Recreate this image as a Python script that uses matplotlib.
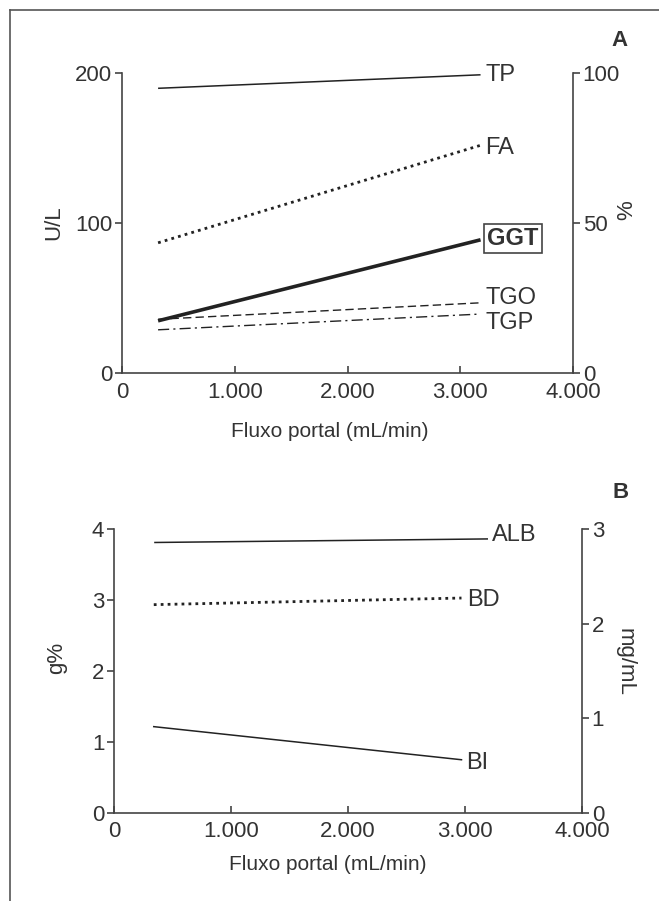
import matplotlib
matplotlib.use("Agg")
import matplotlib.pyplot as plt
from matplotlib.lines import Line2D

plt.rcParams['font.family'] = ['Liberation Sans', 'DejaVu Sans']

W, H = 659, 901
C = '#333333'

# Panel A data
flow_a = [320, 3180]
TP = [95.0, 99.5]      # % (right axis)
FA = [87, 152]         # U/L
GGT = [35, 89]
TGO = [36, 47]
TGP = [29, 39.5]
xticks = [0, 1000, 2000, 3000, 4000]
xticklabels = ['0', '1.000', '2.000', '3.000', '4.000']

# Panel B data
flow_b = [340, 2970]
ALB_x = [350, 3190]
ALB = [3.81, 3.86]     # g% (left axis)
BD = [2.20, 2.27]      # mg/mL (right axis)
BI = [0.91, 0.56]      # mg/mL (right axis)

fig = plt.figure(figsize=(W / 100, H / 100), dpi=100)

def px(x0, y0, x1, y1):
    return [x0 / W, 1 - y1 / H, (x1 - x0) / W, (y1 - y0) / H]

FS = 16
LFS = 17

def style(ax, ax2, lp, xl_center_px, x0, x1):
    for a in (ax, ax2):
        for s in a.spines.values():
            s.set_color('#444444')
            s.set_linewidth(1.2)
        a.spines['top'].set_visible(False)
    ax.spines['right'].set_visible(False)
    ax2.spines['left'].set_visible(False)
    ax2.spines['bottom'].set_visible(False)
    ax.tick_params(axis='y', direction='out', length=5, width=1.2, color='#444444',
                   labelsize=FS, labelcolor=C, pad=2)
    ax.tick_params(axis='x', direction='in', length=5, width=1.2, color='#444444',
                   labelsize=FS, labelcolor=C, pad=6)
    ax2.tick_params(axis='y', direction='out', length=5, width=1.2, color='#444444',
                    labelsize=FS, labelcolor=C, pad=2)
    ax.set_xlim(0, 4000)
    ax.set_xticks(xticks)
    ax.set_xticklabels(xticklabels)
    ax.set_xlabel('Fluxo portal (mL/min)', fontsize=15, color=C, labelpad=lp)
    ax.xaxis.label.set_x((xl_center_px - x0) / (x1 - x0))

# ---- Panel A ----
axA = fig.add_axes(px(122, 73.3, 573, 373.3))
axA2 = axA.twinx()
axA.set_ylim(0, 200)
axA.set_yticks([0, 100, 200])
axA2.set_ylim(0, 100)
axA2.set_yticks([0, 50, 100])
style(axA, axA2, 14, 330, 122, 573)

lc = '#222222'
axA2.plot(flow_a, TP, color=lc, lw=1.1, solid_capstyle='butt')
axA.plot(flow_a, FA, color=lc, lw=2.0, linestyle=(0, (1, 1.5)))
axA.plot(flow_a, GGT, color=lc, lw=2.6, solid_capstyle='butt')
axA.plot(flow_a, TGO, color=lc, lw=1.0, linestyle=(0, (6, 3)))
axA.plot(flow_a, TGP, color=lc, lw=1.0, linestyle=(0, (8, 3, 1.5, 3)))

tx = flow_a[1] + 40
axA2.text(tx, TP[1], 'TP', fontsize=LFS, color=C, va='center', ha='left')
axA.text(tx, FA[1] - 2, 'FA', fontsize=LFS, color=C, va='center', ha='left')
axA.text(tx + 20, GGT[1] + 1, 'GGT', fontsize=LFS, color=C, va='center', ha='left',
         fontweight='bold',
         bbox=dict(boxstyle='square,pad=0.12', fc='white', ec='#444444', lw=1.2))
axA.text(tx, TGO[1] + 3, 'TGO', fontsize=LFS, color=C, va='center', ha='left')
axA.text(tx, TGP[1] - 6, 'TGP', fontsize=LFS, color=C, va='center', ha='left')

fig.text(54 / W, 1 - 223 / H, 'U/L', fontsize=FS, color=C, rotation=90,
         ha='center', va='center')
fig.text(627 / W, 1 - 210 / H, '%', fontsize=FS, color=C, rotation=90,
         ha='center', va='center')
fig.text(620 / W, 1 - 40 / H, 'A', fontsize=FS, color=C, fontweight='bold',
         ha='center', va='center')

# ---- Panel B ----
axB = fig.add_axes(px(114, 529, 582, 812.7))
axB2 = axB.twinx()
axB.set_ylim(0, 4)
axB.set_yticks([0, 1, 2, 3, 4])
axB2.set_ylim(0, 3)
axB2.set_yticks([0, 1, 2, 3])
style(axB, axB2, 9, 328, 114, 582)

axB.plot(ALB_x, ALB, color=lc, lw=1.1)
axB2.plot(flow_b, BD, color=lc, lw=2.0, linestyle=(0, (1, 1.5)))
axB2.plot(flow_b, BI, color=lc, lw=1.1)

axB.text(ALB_x[1] + 40, ALB[1] + 0.05, 'ALB', fontsize=LFS, color=C, va='center', ha='left')
axB2.text(flow_b[1] + 50, BD[1] - 0.02, 'BD', fontsize=LFS, color=C, va='center', ha='left')
axB2.text(flow_b[1] + 40, BI[1] - 0.03, 'BI', fontsize=LFS, color=C, va='center', ha='left')

fig.text(57 / W, 1 - 658 / H, 'g%', fontsize=FS, color=C, rotation=90,
         ha='center', va='center')
fig.text(625 / W, 1 - 662 / H, 'mg/mL', fontsize=FS, color=C, rotation=270,
         ha='center', va='center')
fig.text(621 / W, 1 - 492 / H, 'B', fontsize=FS, color=C, fontweight='bold',
         ha='center', va='center')

# frame (top and left edges)
fig.add_artist(Line2D([10 / W, 10 / W], [0, 1 - 10 / H], transform=fig.transFigure,
                      color='#555555', lw=1.2))
fig.add_artist(Line2D([10 / W, 1], [1 - 10 / H, 1 - 10 / H], transform=fig.transFigure,
                      color='#555555', lw=1.2))

fig.savefig('out.png', dpi=100, facecolor='white')
